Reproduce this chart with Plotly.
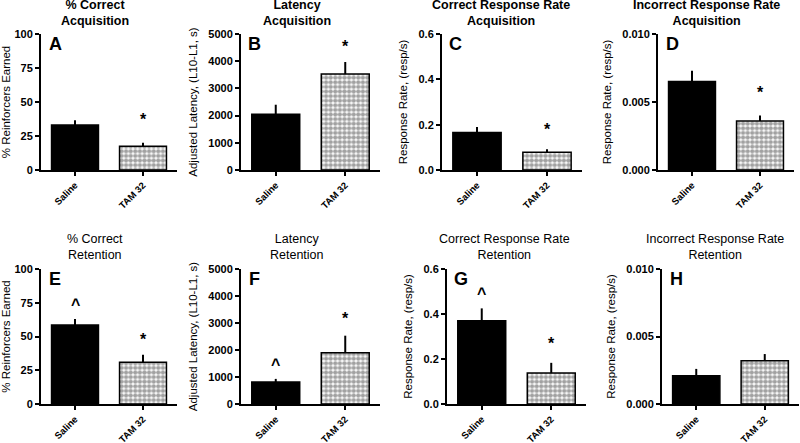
import plotly.graph_objects as go
from plotly.subplots import make_subplots

W, H = 800, 443

groups = ["Saline", "TAM 32"]

# panel values (mean, upper SEM)
pct_acq = [33, 17.5]
pct_acq_err = [3.5, 2.5]
lat_acq = [2050, 3530]
lat_acq_err = [350, 440]
crr_acq = [0.165, 0.078]
crr_acq_err = [0.025, 0.013]
irr_acq = [0.0065, 0.0036]
irr_acq_err = [0.0008, 0.0004]

pct_ret = [58.5, 31]
pct_ret_err = [4.5, 5.5]
lat_ret = [815, 1900]
lat_ret_err = [115, 630]
crr_ret = [0.37, 0.138]
crr_ret_err = [0.055, 0.045]
irr_ret = [0.0021, 0.0032]
irr_ret_err = [0.0005, 0.0005]

# significance marks: (group, symbol, y)
marks_a = [("TAM 32", "*", 37)]
marks_b = [("TAM 32", "*", 4550)]
marks_c = [("TAM 32", "*", 0.18)]
marks_d = [("TAM 32", "*", 0.0057)]
marks_e = [("Saline", "^", 74), ("TAM 32", "*", 48)]
marks_f = [("Saline", "^", 1450), ("TAM 32", "*", 3150)]
marks_g = [("Saline", "^", 0.49), ("TAM 32", "*", 0.27)]
marks_h = []

FONT = "Liberation Sans, Arial, sans-serif"


def px(x):
    return x / W


def py(y):
    return 1 - y / H


panels = [
    # letter, title, ytitle, values, errs, marks, yrange, tickvals, fmt, xdom(px), ydom(px), title x, bold title
    ("A", "% Correct<br>Acquisition", "% Reinforcers Earned", pct_acq, pct_acq_err, marks_a,
     [0, 100], [0, 25, 50, 75, 100], "d", (41, 177), (34, 170), 95, True),
    ("B", "Latency<br>Acquisition", "Adjusted Latency, (L10-L1, s)", lat_acq, lat_acq_err, marks_b,
     [0, 5000], [0, 1000, 2000, 3000, 4000, 5000], "d", (241, 380), (34, 170), 297, True),
    ("C", "Correct Response Rate<br>Acquisition", "Response Rate, (resp/s)", crr_acq, crr_acq_err, marks_c,
     [0, 0.6], [0, 0.2, 0.4, 0.6], ".1f", (442, 582), (34, 170), 501, True),
    ("D", "Incorrect Response Rate<br>Acquisition", "Response Rate, (resp/s)", irr_acq, irr_acq_err, marks_d,
     [0, 0.01], [0, 0.005, 0.01], ".3f", (658, 794), (34, 170), 706, True),
    ("E", "% Correct<br>Retention", "% Reinforcers Earned", pct_ret, pct_ret_err, marks_e,
     [0, 100], [0, 25, 50, 75, 100], "d", (41, 177), (269, 404), 95, False),
    ("F", "Latency<br>Retention", "Adjusted Latency, (L10-L1, s)", lat_ret, lat_ret_err, marks_f,
     [0, 5000], [0, 1000, 2000, 3000, 4000, 5000], "d", (241, 380), (269, 404), 297, False),
    ("G", "Correct Response Rate<br>Retention", "Response Rate, (resp/s)", crr_ret, crr_ret_err, marks_g,
     [0, 0.6], [0, 0.2, 0.4, 0.6], ".1f", (447, 586), (269, 404), 504, False),
    ("H", "Incorrect Response Rate<br>Retention", "Response Rate, (resp/s)", irr_ret, irr_ret_err, marks_h,
     [0, 0.01], [0, 0.005, 0.01], ".3f", (662, 799), (269, 404), 715, False),
]

fig = make_subplots(rows=2, cols=4)

for i, (letter, title, ytitle, vals, errs, marks, yr, tv, fmt, xd, yd, tx, tbold) in enumerate(panels):
    row, col = i // 4 + 1, i % 4 + 1
    n = i + 1
    fig.add_trace(go.Bar(
        x=groups, y=vals, width=0.69,
        marker=dict(
            color=["black", "white"],
            line=dict(color="black", width=1.5),
            pattern=dict(shape=["", "."], fgcolor="black", bgcolor="white",
                         size=4.6, solidity=0.7, fillmode="overlay"),
        ),
        error_y=dict(type="data", symmetric=False, array=errs, arrayminus=[0, 0],
                     color="black", thickness=2, width=0),
        showlegend=False, hoverinfo="skip",
    ), row=row, col=col)

    xa = "xaxis" if n == 1 else f"xaxis{n}"
    ya = "yaxis" if n == 1 else f"yaxis{n}"
    fig.layout[xa].update(
        domain=[px(xd[0]), px(xd[1])], range=[-0.5, 1.5], automargin=False,
        showline=True, linecolor="black", linewidth=2,
        ticks="outside", ticklen=4, tickwidth=2, tickcolor="black",
        tickangle=-45, tickfont=dict(family=FONT, size=9.5, color="black", weight="bold"),
        showgrid=False, zeroline=False,
    )
    fig.layout[ya].update(
        domain=[py(yd[1]), py(yd[0])], range=yr, automargin=False,
        tickvals=tv, tickformat=fmt,
        showline=True, linecolor="black", linewidth=2,
        ticks="outside", ticklen=4, tickwidth=2, tickcolor="black",
        tickfont=dict(family=FONT, size=11, color="black", weight="bold"),
        showgrid=False, zeroline=False,
        title=dict(text=ytitle, font=dict(family=FONT, size=11.5, color="black"), standoff=8),
    )

    xref = "x" if n == 1 else f"x{n}"
    yref = "y" if n == 1 else f"y{n}"

    # panel letter
    fig.add_annotation(x=px(xd[0] + 14), y=py(yd[0] + 10), xref="paper", yref="paper",
                       text=f"<b>{letter}</b>", showarrow=False, xanchor="center", yanchor="middle",
                       font=dict(family=FONT, size=18, color="black"))

    # panel title
    ty = 12.5 if i < 4 else 247
    fig.add_annotation(x=px(tx), y=py(ty), xref="paper", yref="paper",
                       text=f"<b>{title}</b>" if tbold else title, showarrow=False,
                       xanchor="center", yanchor="middle",
                       font=dict(family=FONT, size=12.5, color="black"))

    # significance marks
    for g, sym, yv in marks:
        fig.add_annotation(x=g, y=yv, xref=xref, yref=yref, text=f"<b>{sym}</b>",
                           showarrow=False, xanchor="center", yanchor="middle",
                           font=dict(family=FONT, size=16, color="black"))

fig.update_layout(
    width=W, height=H,
    margin=dict(l=0, r=0, t=0, b=0),
    plot_bgcolor="white", paper_bgcolor="white",
    bargap=0.3,
)

# drop the default 8px page margin so the 800x443 figure fills the window
fig.write_html("out.html", config={"displayModeBar": False},
               post_script="document.body.style.margin='0';")
